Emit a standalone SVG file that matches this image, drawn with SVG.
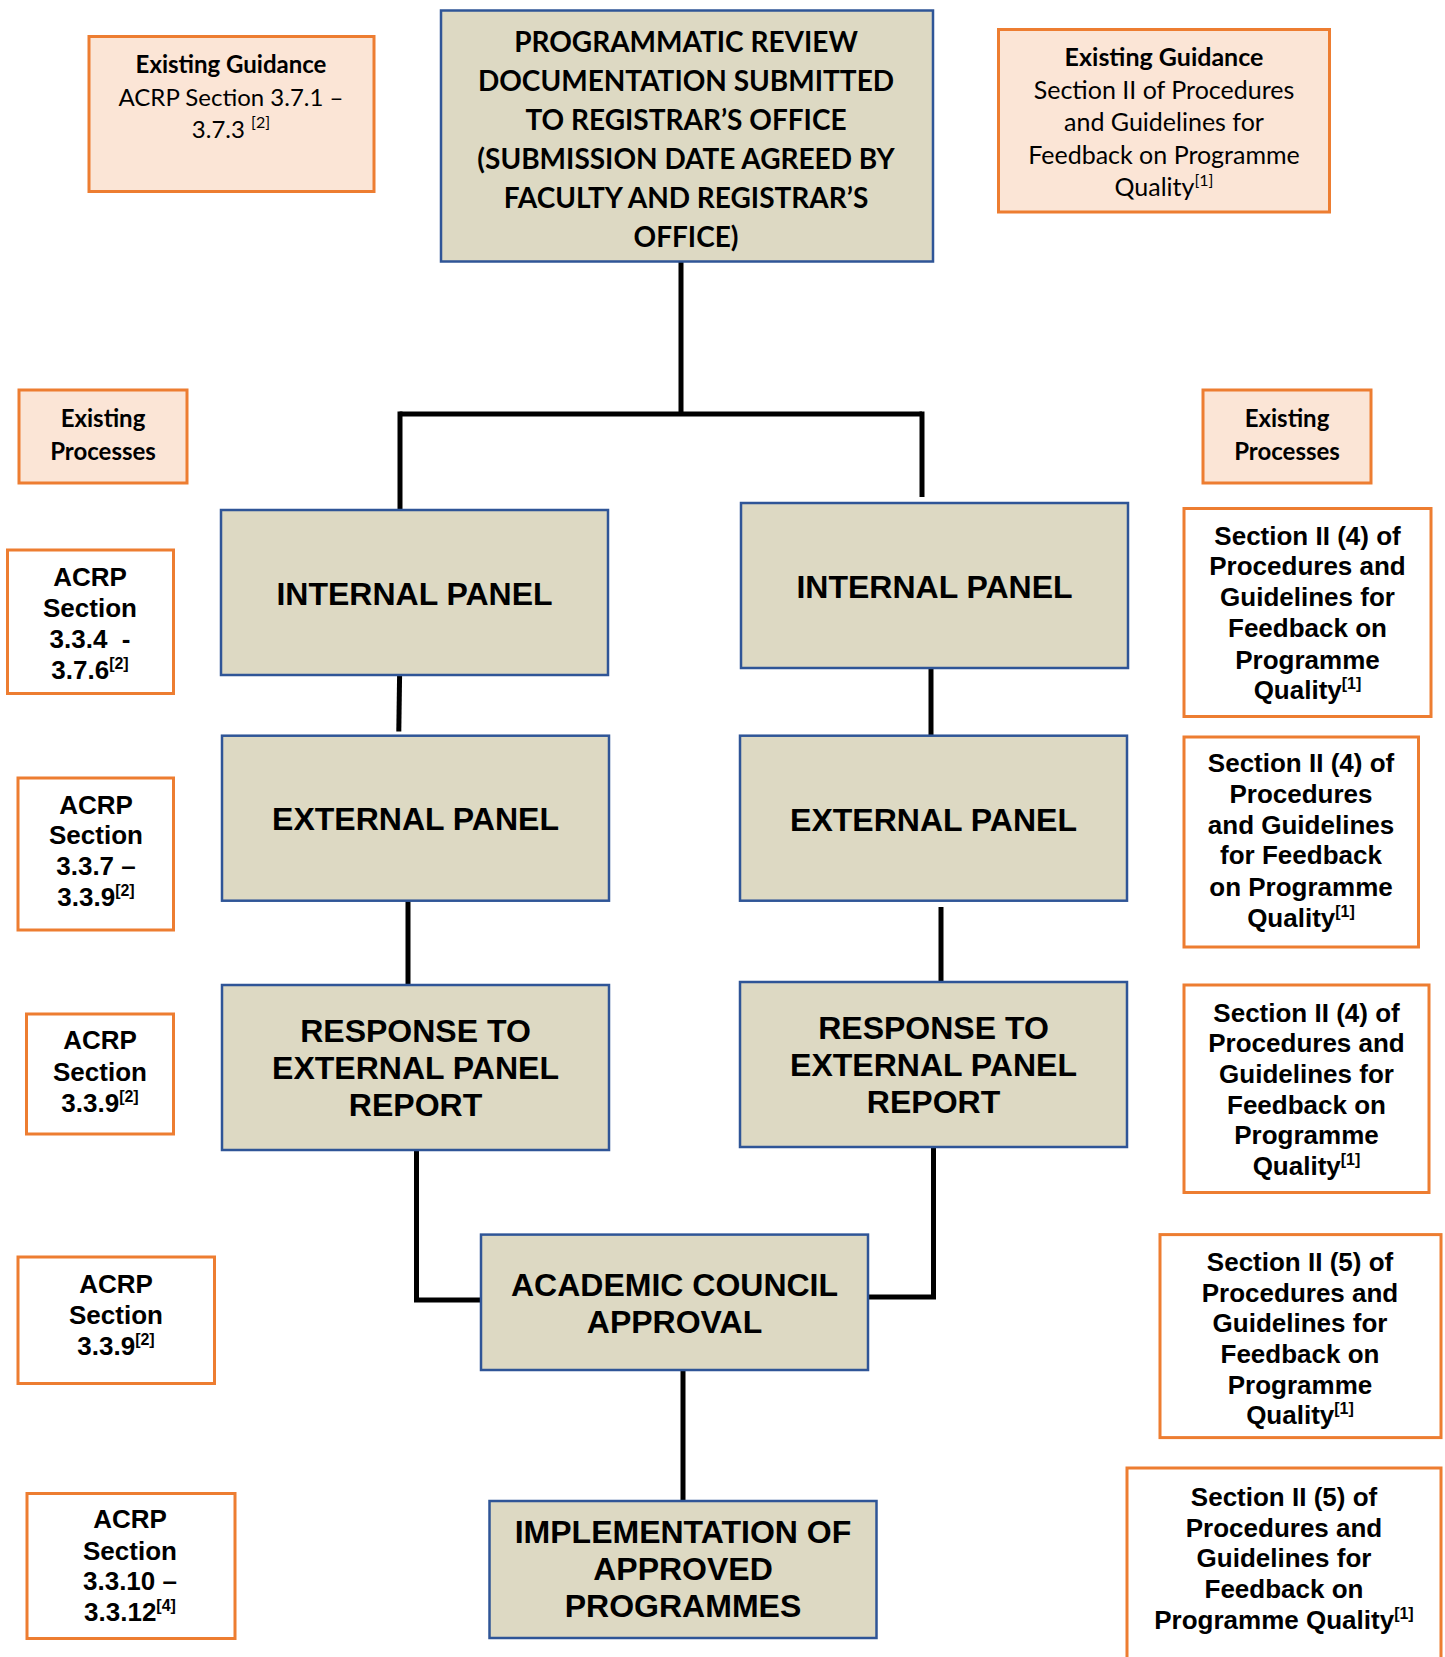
<svg xmlns="http://www.w3.org/2000/svg" width="1445" height="1657" viewBox="0 0 1445 1657">
<style>
.proc{fill:#DDD9C3;stroke:#2F5597;stroke-width:2.5}
.guide{fill:#FBE5D6;stroke:#ED7D31;stroke-width:3}
.ref{fill:#FFFFFF;stroke:#ED7D31;stroke-width:3}
.pt{font-family:"Liberation Sans",Arial,sans-serif;font-weight:bold;font-size:32px;fill:#000;text-anchor:middle}
.rt{font-family:"Liberation Sans",Arial,sans-serif;font-weight:bold;font-size:26px;fill:#000;text-anchor:middle}
.ct{font-family:Lato,"Open Sans",sans-serif;font-size:24px;fill:#000;text-anchor:middle}
.cb{font-family:Lato,"Open Sans",sans-serif;font-weight:bold;font-size:24px;fill:#000;text-anchor:middle}
.big{font-size:25px}
.tt{font-family:Lato,"Open Sans",sans-serif;font-weight:bold;font-size:28px;fill:#000;text-anchor:middle}
.sup{font-size:16px}
.conn{fill:none;stroke:#000;stroke-width:5}
</style>
<rect width="1445" height="1657" fill="#FFFFFF"/>

<g id="connectors">
<path class="conn" d="M681,261 V414"/>
<path class="conn" d="M399.6,414 H922"/>
<path class="conn" d="M400,411.5 V510"/>
<path class="conn" d="M922,411.5 V497"/>
<path class="conn" d="M399.6,674.5 L398.8,731.5"/>
<path class="conn" d="M931,668 V735.7"/>
<path class="conn" d="M408,900.6 V985"/>
<path class="conn" d="M941,907 V981"/>
<path class="conn" d="M416.5,1150 V1300 H481"/>
<path class="conn" d="M933.5,1147 V1297 H868"/>
<path class="conn" d="M683,1370 V1501"/>
</g>

<g id="n-top">
<rect class="proc" x="441" y="10.5" width="492" height="251"/>
<text class="tt" x="686" y="52">PROGRAMMATIC REVIEW</text>
<text class="tt" x="686" y="91">DOCUMENTATION SUBMITTED</text>
<text class="tt" x="686" y="130">TO REGISTRAR’S OFFICE</text>
<text class="tt" x="686" y="169">(SUBMISSION DATE AGREED BY</text>
<text class="tt" x="686" y="208">FACULTY AND REGISTRAR’S</text>
<text class="tt" x="686" y="247">OFFICE)</text>
</g>

<g id="n-guide-left">
<rect class="guide" x="89" y="36.5" width="285" height="155"/>
<text class="cb" x="231" y="73">Existing Guidance</text>
<text class="ct" x="231" y="105.5">ACRP Section 3.7.1 –</text>
<text class="ct" x="231" y="138">3.7.3 <tspan class="sup" dy="-10">[2]</tspan></text>
</g>

<g id="n-guide-right">
<rect class="guide" x="998.5" y="29.5" width="331" height="182.5"/>
<text class="cb big" x="1164" y="66">Existing Guidance</text>
<text class="ct big" x="1164" y="99">Section II of Procedures</text>
<text class="ct big" x="1164" y="131">and Guidelines for</text>
<text class="ct big" x="1164" y="163.5">Feedback on Programme</text>
<text class="ct big" x="1164" y="195.5">Quality<tspan class="sup" dy="-10">[1]</tspan></text>
</g>

<g id="n-ep-left">
<rect class="guide" x="19" y="390" width="168" height="93"/>
<text class="cb" x="103" y="427">Existing</text>
<text class="cb" x="103" y="460">Processes</text>
</g>

<g id="n-ep-right">
<rect class="guide" x="1203" y="390" width="168" height="93"/>
<text class="cb" x="1287" y="427">Existing</text>
<text class="cb" x="1287" y="460">Processes</text>
</g>

<g id="n-int-left">
<rect class="proc" x="221" y="510" width="387" height="165"/>
<text class="pt" x="414.5" y="604.5">INTERNAL PANEL</text>
</g>

<g id="n-int-right">
<rect class="proc" x="741" y="503" width="387" height="165"/>
<text class="pt" x="934.5" y="598">INTERNAL PANEL</text>
</g>

<g id="n-ext-left">
<rect class="proc" x="222" y="735.7" width="387" height="165"/>
<text class="pt" x="415.5" y="829.5">EXTERNAL PANEL</text>
</g>

<g id="n-ext-right">
<rect class="proc" x="740" y="735.7" width="387" height="165"/>
<text class="pt" x="933.5" y="830.5">EXTERNAL PANEL</text>
</g>

<g id="n-resp-left">
<rect class="proc" x="222" y="985" width="387" height="165"/>
<text class="pt" x="415.5" y="1042">RESPONSE TO</text>
<text class="pt" x="415.5" y="1079">EXTERNAL PANEL</text>
<text class="pt" x="415.5" y="1116">REPORT</text>
</g>

<g id="n-resp-right">
<rect class="proc" x="740" y="982" width="387" height="165"/>
<text class="pt" x="933.5" y="1039">RESPONSE TO</text>
<text class="pt" x="933.5" y="1076">EXTERNAL PANEL</text>
<text class="pt" x="933.5" y="1113">REPORT</text>
</g>

<g id="n-council">
<rect class="proc" x="481" y="1234.6" width="387" height="135.4"/>
<text class="pt" x="674.5" y="1296">ACADEMIC COUNCIL</text>
<text class="pt" x="674.5" y="1333">APPROVAL</text>
</g>

<g id="n-impl">
<rect class="proc" x="489.5" y="1501" width="387" height="137"/>
<text class="pt" x="683" y="1543">IMPLEMENTATION OF</text>
<text class="pt" x="683" y="1580">APPROVED</text>
<text class="pt" x="683" y="1617">PROGRAMMES</text>
</g>

<g id="n-acrp1">
<rect class="ref" x="7.5" y="550" width="166" height="143.5"/>
<text class="rt" x="90" y="586">ACRP</text>
<text class="rt" x="90" y="617">Section</text>
<text class="rt" x="90" y="648" xml:space="preserve">3.3.4  -</text>
<text class="rt" x="90" y="679">3.7.6<tspan class="sup" dy="-10">[2]</tspan></text>
</g>

<g id="n-acrp2">
<rect class="ref" x="18" y="778" width="155.5" height="152"/>
<text class="rt" x="96" y="813.5">ACRP</text>
<text class="rt" x="96" y="844">Section</text>
<text class="rt" x="96" y="874.5">3.3.7 –</text>
<text class="rt" x="96" y="905.5">3.3.9<tspan class="sup" dy="-10">[2]</tspan></text>
</g>

<g id="n-acrp3">
<rect class="ref" x="26.5" y="1014" width="147" height="120"/>
<text class="rt" x="100" y="1049">ACRP</text>
<text class="rt" x="100" y="1081">Section</text>
<text class="rt" x="100" y="1111.5">3.3.9<tspan class="sup" dy="-10">[2]</tspan></text>
</g>

<g id="n-acrp4">
<rect class="ref" x="18" y="1257" width="196.5" height="126.5"/>
<text class="rt" x="116" y="1293">ACRP</text>
<text class="rt" x="116" y="1324">Section</text>
<text class="rt" x="116" y="1354.5">3.3.9<tspan class="sup" dy="-10">[2]</tspan></text>
</g>

<g id="n-acrp5">
<rect class="ref" x="27" y="1493.5" width="208" height="145"/>
<text class="rt" x="130" y="1528">ACRP</text>
<text class="rt" x="130" y="1559.5">Section</text>
<text class="rt" x="130" y="1590">3.3.10 –</text>
<text class="rt" x="130" y="1621">3.3.12<tspan class="sup" dy="-10">[4]</tspan></text>
</g>

<g id="n-s4a">
<rect class="ref" x="1184" y="508.5" width="247" height="208"/>
<text class="rt" x="1307.5" y="545">Section II (4) of</text>
<text class="rt" x="1307.5" y="575">Procedures and</text>
<text class="rt" x="1307.5" y="606">Guidelines for</text>
<text class="rt" x="1307.5" y="637">Feedback on</text>
<text class="rt" x="1307.5" y="668.5">Programme</text>
<text class="rt" x="1307.5" y="699">Quality<tspan class="sup" dy="-10">[1]</tspan></text>
</g>

<g id="n-s4b">
<rect class="ref" x="1184" y="737" width="234.5" height="210"/>
<text class="rt" x="1301" y="772">Section II (4) of</text>
<text class="rt" x="1301" y="803">Procedures</text>
<text class="rt" x="1301" y="833.5">and Guidelines</text>
<text class="rt" x="1301" y="864">for Feedback</text>
<text class="rt" x="1301" y="896">on Programme</text>
<text class="rt" x="1301" y="926.5">Quality<tspan class="sup" dy="-10">[1]</tspan></text>
</g>

<g id="n-s4c">
<rect class="ref" x="1184" y="985" width="245" height="207.5"/>
<text class="rt" x="1306.5" y="1021.5">Section II (4) of</text>
<text class="rt" x="1306.5" y="1052">Procedures and</text>
<text class="rt" x="1306.5" y="1083">Guidelines for</text>
<text class="rt" x="1306.5" y="1113.5">Feedback on</text>
<text class="rt" x="1306.5" y="1144">Programme</text>
<text class="rt" x="1306.5" y="1175">Quality<tspan class="sup" dy="-10">[1]</tspan></text>
</g>

<g id="n-s5a">
<rect class="ref" x="1160" y="1234.6" width="281" height="203"/>
<text class="rt" x="1300" y="1271">Section II (5) of</text>
<text class="rt" x="1300" y="1301.5">Procedures and</text>
<text class="rt" x="1300" y="1332">Guidelines for</text>
<text class="rt" x="1300" y="1363">Feedback on</text>
<text class="rt" x="1300" y="1393.5">Programme</text>
<text class="rt" x="1300" y="1423.5">Quality<tspan class="sup" dy="-10">[1]</tspan></text>
</g>

<g id="n-s5b">
<rect class="ref" x="1127" y="1468" width="314" height="210"/>
<text class="rt" x="1284" y="1506">Section II (5) of</text>
<text class="rt" x="1284" y="1536.5">Procedures and</text>
<text class="rt" x="1284" y="1567">Guidelines for</text>
<text class="rt" x="1284" y="1598">Feedback on</text>
<text class="rt" x="1284" y="1628.5">Programme Quality<tspan class="sup" dy="-10">[1]</tspan></text>
</g>
</svg>
